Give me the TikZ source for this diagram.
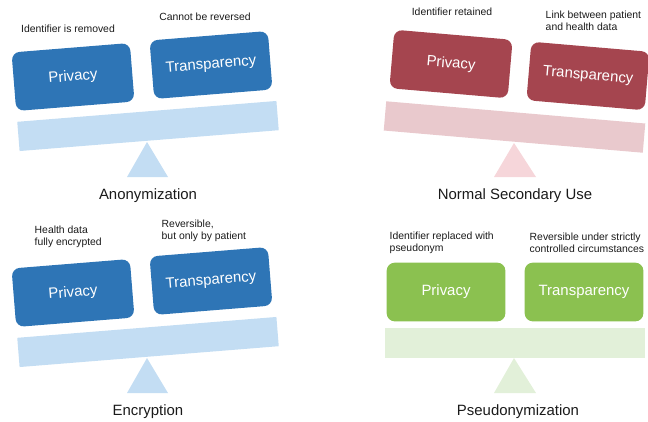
\documentclass[tikz,border=0pt]{standalone}
\usepackage{fontspec}
\setmainfont{Liberation Sans}
\usetikzlibrary{positioning}
\definecolor{swblue}{HTML}{2E75B6}
\definecolor{swbluepale}{HTML}{C3DDF3}
\definecolor{swred}{HTML}{A5454F}
\definecolor{swredpale}{HTML}{E9C9CD}
\definecolor{swredpivot}{HTML}{F6D6DA}
\definecolor{swgreen}{HTML}{8BC150}
\definecolor{swgreenpale}{HTML}{E2F0D9}
\definecolor{swink}{HTML}{1A1A1A}
\tikzset{
  sw box/.style={rounded corners=6pt, inner sep=0pt, minimum width=89pt,
    minimum height=44pt, text=white, font=\fontsize{11.2}{13}\selectfont},
  sw beam/.style={inner sep=0pt, minimum width=195pt, minimum height=22pt},
  sw note/.style={font=\fontsize{7.8}{9.2}\selectfont, text=swink, align=left},
  sw title/.style={font=\fontsize{11.2}{13}\selectfont, text=swink}
}

\begin{document}
\begin{tikzpicture}[x=0.75pt, y=-0.75pt]
  \useasboundingbox (0,0) rectangle (648,421);

  % anonymization: tipped towards privacy
  \node[sw beam, fill=swbluepale, rotate=4.6] (anonbeam) at (148,126) {};
  \fill[swbluepale] (147,142) -- (127,177) -- (168,177) -- cycle;
  \node[sw box, fill=swblue, rotate=4.6] (anonpriv) at (73,77) {Privacy};
  \node[sw box, fill=swblue, rotate=4.6] (anontrans) at (211,65) {Transparency};
  \node[sw note] (anonprivnote) at (68,29) {Identifier is removed};
  \node[sw note] (anontransnote) at (205,17) {Cannot be reversed};
  \node[sw title] (anontitle) at (148,196) {Anonymization};

  % normal secondary use: tipped towards transparency
  \node[sw beam, fill=swredpale, rotate=-4.9] (normbeam) at (514.5,127) {};
  \fill[swredpivot] (514,143) -- (494,177) -- (536,177) -- cycle;
  \node[sw box, fill=swred, rotate=-4.9] (normpriv) at (451,64) {Privacy};
  \node[sw box, fill=swred, rotate=-4.9] (normtrans) at (588,76) {Transparency};
  \node[sw note] (normprivnote) at (452,12) {Identifier retained};
  \node[sw note, anchor=west] (normtransnote) at (541,21) {Link between patient\\and health data};
  \node[sw title] (normtitle) at (515,196) {Normal Secondary Use};

  % encryption
  \node[sw beam, fill=swbluepale, rotate=4.6] (encbeam) at (148,342) {};
  \fill[swbluepale] (147,358) -- (127,393) -- (168,393) -- cycle;
  \node[sw box, fill=swblue, rotate=4.6] (encpriv) at (73,293) {Privacy};
  \node[sw box, fill=swblue, rotate=4.6] (enctrans) at (211,281) {Transparency};
  \node[sw note, anchor=west] (encprivnote) at (30,236.5) {Health data\\fully encrypted};
  \node[sw note, anchor=west] (enctransnote) at (157,231) {Reversible,\\but only by patient};
  \node[sw title] (enctitle) at (148,412) {Encryption};

  % pseudonymization: balanced
  \node[sw beam, fill=swgreenpale] (pseubeam) at (514.5,343) {};
  \fill[swgreenpale] (514,358) -- (494,393) -- (536,393) -- cycle;
  \node[sw box, fill=swgreen] (pseupriv) at (446,292) {Privacy};
  \node[sw box, fill=swgreen] (pseutrans) at (584,292) {Transparency};
  \node[sw note, anchor=west] (pseuprivnote) at (385,243) {Identifier replaced with\\pseudonym};
  \node[sw note, anchor=west] (pseutransnote) at (525,243) {Reversible under strictly\\controlled circumstances};
  \node[sw title] (pseutitle) at (518,412) {Pseudonymization};
\end{tikzpicture}
\end{document}
